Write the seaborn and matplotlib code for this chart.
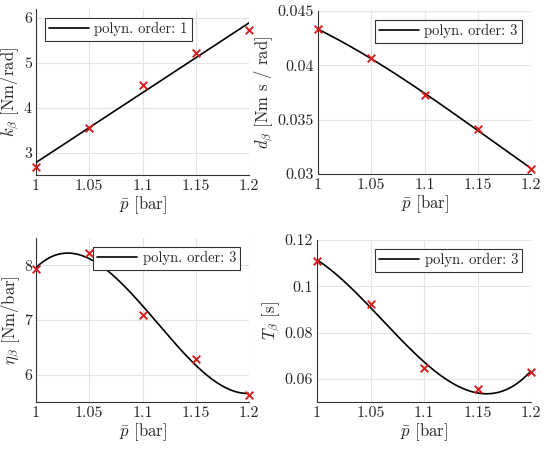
import numpy as np
import pandas as pd
import matplotlib
matplotlib.use("Agg")
import matplotlib.pyplot as plt
import seaborn as sns

# data
p_bar = [1.0, 1.05, 1.1, 1.15, 1.2]
k_beta = [2.68, 3.54, 4.50, 5.22, 5.73]
d_beta = [0.0433, 0.0407, 0.0373, 0.0341, 0.0305]
eta_beta = [7.93, 8.23, 7.10, 6.28, 5.63]
T_beta = [0.111, 0.0925, 0.0648, 0.0556, 0.0630]

x_ticks = [1, 1.05, 1.1, 1.15, 1.2]
x_ticklabels = ["1", "1.05", "1.1", "1.15", "1.2"]

panels = [
    dict(y=k_beta, order=1, label=r"$k_\beta$ [Nm/rad]", ylim=(2.5, 6.2),
         yticks=[3, 4, 5, 6], yticklabels=["3", "4", "5", "6"], loc="upper left"),
    dict(y=d_beta, order=3, label=r"$d_\beta$ [Nm s / rad]", ylim=(0.03, 0.045),
         yticks=[0.03, 0.035, 0.04, 0.045], yticklabels=["0.03", "0.035", "0.04", "0.045"],
         loc="upper right"),
    dict(y=eta_beta, order=3, label=r"$\eta_\beta$ [Nm/bar]", ylim=(5.5, 8.5),
         yticks=[6, 7, 8], yticklabels=["6", "7", "8"], loc="upper right"),
    dict(y=T_beta, order=3, label=r"$T_\beta$ [s]", ylim=(0.05, 0.12),
         yticks=[0.06, 0.08, 0.1, 0.12], yticklabels=["0.06", "0.08", "0.1", "0.12"],
         loc="upper right"),
]

sns.set_style("white")
plt.rcParams["font.family"] = ["serif"]
plt.rcParams["font.serif"] = ["cmr10", "DejaVu Serif"]
plt.rcParams["mathtext.fontset"] = "cm"
plt.rcParams["axes.formatter.use_mathtext"] = True

fig = plt.figure(figsize=(5.5, 4.49), dpi=100)
W, H = 550, 449
boxes = [(36, 9, 249, 175), (318, 11, 531, 174), (36, 238, 249, 402), (317, 240, 531, 402)]

for box, pn in zip(boxes, panels):
    l, t, r, b = box
    ax = fig.add_axes([l / W, 1 - b / H, (r - l) / W, (b - t) / H])
    coef = np.polyfit(p_bar, pn["y"], pn["order"])
    xf = np.linspace(1.0, 1.2, 200)
    fit = pd.DataFrame({"p": xf, "v": np.polyval(coef, xf)})
    meas = pd.DataFrame({"p": p_bar, "v": pn["y"]})
    sns.lineplot(data=fit, x="p", y="v", ax=ax, color="black", lw=1.2,
                 label="polyn. order: %d" % pn["order"], zorder=3)
    sns.scatterplot(data=meas, x="p", y="v", ax=ax, marker="x", color="#d81e1e",
                    s=30, linewidth=1.4, zorder=6, clip_on=False)
    ax.set_xlim(1.0, 1.2)
    ax.set_ylim(*pn["ylim"])
    ax.set_xticks(x_ticks)
    ax.set_xticklabels(x_ticklabels)
    ax.set_yticks(pn["yticks"])
    ax.set_yticklabels(pn["yticklabels"])
    ax.set_xlabel(r"$\bar{p}$ [bar]", fontsize=12, labelpad=1)
    ax.set_ylabel(pn["label"], fontsize=12, labelpad=1)
    ax.tick_params(labelsize=11.5, direction="in", length=3, color="#333333", pad=3)
    ax.grid(True, color="#e3e3e3", lw=0.8)
    ax.set_axisbelow(True)
    for s in ["top", "right"]:
        ax.spines[s].set_visible(False)
    for s in ["left", "bottom"]:
        ax.spines[s].set_color("#333333")
        ax.spines[s].set_linewidth(0.8)
    leg = ax.legend(loc=pn["loc"], fontsize=10.5, fancybox=False, framealpha=1,
                    edgecolor="#333333", handlelength=2.7, borderpad=0.3,
                    borderaxespad=0.6, handletextpad=0.4)
    leg.get_frame().set_linewidth(0.8)

fig.savefig("out.png", dpi=100)
